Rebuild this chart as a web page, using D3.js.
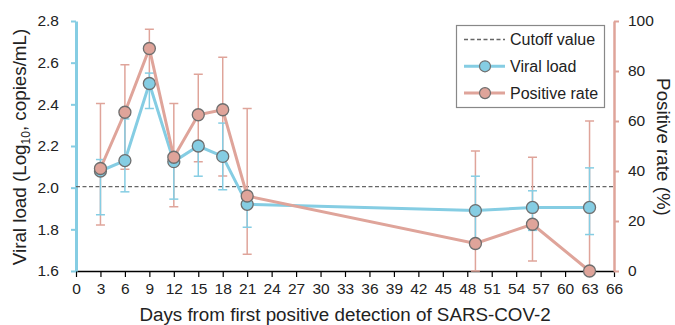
<!DOCTYPE html>
<html>
<head>
<meta charset="utf-8">
<script src="https://cdn.jsdelivr.net/npm/d3@7"></script>
<style>
  body { margin: 0; background: #fff; }
  svg { font-family: "Liberation Sans", Arial, sans-serif; }
</style>
</head>
<body>
<svg id="chart" width="675" height="325"></svg>
<script>
// data
const days = [3, 6, 9, 12, 15, 18, 21, 49, 56, 63];
const viralLoad = [2.08, 2.13, 2.50, 2.125, 2.20, 2.15, 1.92, 1.89, 1.905, 1.905];
const viralHigh = [2.135, 2.33, 2.55, 2.15, 2.22, 2.31, 1.975, 2.055, 1.985, 2.095];
const viralLow = [1.87, 1.98, 2.38, 1.945, 2.055, 1.99, 1.81, 1.71, 1.795, 1.775];
const positiveRate = [41, 63.5, 89, 45.5, 62.5, 64.5, 30, 11, 18.7, 0];
const positiveHigh = [67, 82.5, 96.7, 67, 78.7, 85.5, 65, 48, 45.5, 60];
const positiveLow = [18.4, 40.7, 76, 25.7, 43.7, 38, 6.7, 0, 4, 0];
const cutoff = 2.005;
const xTicks = d3.range(0, 67, 3);
const leftTicks = [1.6, 1.8, 2.0, 2.2, 2.4, 2.6, 2.8];
const rightTicks = [0, 20, 40, 60, 80, 100];

const blue = "#85cde3", pink = "#dfa49a", markerStroke = "#6e6e6e";

const svg = d3.select("#chart");
const margin = { left: 76, right: 61, top: 21, bottom: 54 };
const W = 675, H = 325;

const x = d3.scaleLinear().domain([0, 66]).range([margin.left, W - margin.right]);
const yL = d3.scaleLinear().domain([1.6, 2.8]).range([H - margin.bottom, margin.top]);
const yR = d3.scaleLinear().domain([0, 100]).range([H - margin.bottom, margin.top]);

const viral = days.map((d, i) => ({ day: d, v: viralLoad[i], hi: viralHigh[i], lo: viralLow[i] }));
const pos = days.map((d, i) => ({ day: d, v: positiveRate[i], hi: positiveHigh[i], lo: positiveLow[i] }));

// axes
const xAxis = svg.append("g")
    .attr("transform", `translate(0,${yL(1.6)})`)
    .call(d3.axisBottom(x).tickValues(xTicks).tickSize(6).tickSizeOuter(0).tickPadding(6));
xAxis.select(".domain").attr("stroke", "#000").attr("stroke-width", 1.5);
xAxis.selectAll(".tick line").attr("stroke", "#000").attr("stroke-width", 1.2);
xAxis.selectAll("text").attr("font-size", 15.5).attr("fill", "#222");

const leftAxis = svg.append("g")
    .attr("transform", `translate(${margin.left},0)`)
    .call(d3.axisLeft(yL).tickValues(leftTicks).tickFormat(d3.format(".1f")).tickSize(5).tickSizeOuter(0).tickPadding(12));
leftAxis.select(".domain").attr("stroke", blue).attr("stroke-width", 3);
leftAxis.selectAll(".tick line").attr("stroke", blue).attr("stroke-width", 2);
leftAxis.selectAll("text").attr("font-size", 15.5).attr("fill", "#222");

const rightAxis = svg.append("g")
    .attr("transform", `translate(${W - margin.right},0)`)
    .call(d3.axisRight(yR).tickValues(rightTicks).tickSize(5).tickSizeOuter(0).tickPadding(9));
rightAxis.select(".domain").attr("stroke", pink).attr("stroke-width", 2.5);
rightAxis.selectAll(".tick line").attr("stroke", pink).attr("stroke-width", 2);
rightAxis.selectAll("text").attr("font-size", 15.5).attr("fill", "#222");

// cutoff line
svg.append("line")
    .attr("x1", x(0)).attr("x2", x(66))
    .attr("y1", yL(cutoff)).attr("y2", yL(cutoff))
    .attr("stroke", "#666").attr("stroke-width", 1.3).attr("stroke-dasharray", "4,2.5");

function errorBars(data, y, color) {
    const g = svg.append("g").attr("stroke", color).attr("stroke-width", 1.5);
    data.forEach(d => {
        g.append("line").attr("x1", x(d.day)).attr("x2", x(d.day)).attr("y1", y(d.lo)).attr("y2", y(d.hi));
        [d.lo, d.hi].forEach(v => {
            g.append("line").attr("x1", x(d.day) - 4.5).attr("x2", x(d.day) + 4.5).attr("y1", y(v)).attr("y2", y(v));
        });
    });
}
errorBars(pos, yR, pink);
errorBars(viral, yL, blue);

function series(data, y, color) {
    svg.append("path")
        .datum(data)
        .attr("fill", "none")
        .attr("stroke", color)
        .attr("stroke-width", 3)
        .attr("d", d3.line().x(d => x(d.day)).y(d => y(d.v)));
    svg.append("g").selectAll("circle")
        .data(data)
        .enter().append("circle")
        .attr("cx", d => x(d.day))
        .attr("cy", d => y(d.v))
        .attr("r", 6)
        .attr("fill", color)
        .attr("stroke", markerStroke)
        .attr("stroke-width", 1.3);
}
series(viral, yL, blue);
series(pos, yR, pink);

// axis titles
svg.append("text")
    .attr("x", (x(0) + x(66)) / 2).attr("y", 321)
    .attr("text-anchor", "middle").attr("font-size", 18.8).attr("fill", "#222")
    .text("Days from first positive detection of SARS-COV-2");

const lt = svg.append("text")
    .attr("transform", `translate(26,${(yL(1.6) + yL(2.8)) / 2 + 1}) rotate(-90)`)
    .attr("text-anchor", "middle").attr("font-size", 18.8).attr("fill", "#222");
lt.append("tspan").text("Viral load (Log");
lt.append("tspan").attr("font-size", 12).attr("dy", 4).text("10");
lt.append("tspan").attr("dy", -4).text(", copies/mL)");

svg.append("text")
    .attr("transform", `translate(657,${(yR(0) + yR(100)) / 2 + 1}) rotate(90)`)
    .attr("text-anchor", "middle").attr("font-size", 18.8).attr("fill", "#222")
    .text("Positive rate (%)");

// legend
const lg = svg.append("g");
lg.append("rect").attr("x", 456.5).attr("y", 25.5).attr("width", 148).attr("height", 82)
    .attr("fill", "#fff").attr("stroke", "#888").attr("stroke-width", 1.2);
const items = [
    { label: "Cutoff value", type: "dash" },
    { label: "Viral load", color: blue },
    { label: "Positive rate", color: pink }
];
items.forEach((it, i) => {
    const cy = 39.5 + i * 26.8;
    if (it.type === "dash") {
        lg.append("line").attr("x1", 464).attr("x2", 505).attr("y1", cy).attr("y2", cy)
            .attr("stroke", "#666").attr("stroke-width", 1.3).attr("stroke-dasharray", "4,2.5");
    } else {
        lg.append("line").attr("x1", 464).attr("x2", 505).attr("y1", cy).attr("y2", cy)
            .attr("stroke", it.color).attr("stroke-width", 3);
        lg.append("circle").attr("cx", 485).attr("cy", cy).attr("r", 5.5)
            .attr("fill", it.color).attr("stroke", markerStroke).attr("stroke-width", 1.2);
    }
    lg.append("text").attr("x", 510).attr("y", cy + 5.6).attr("font-size", 16).attr("fill", "#222").text(it.label);
});
</script>
</body>
</html>
